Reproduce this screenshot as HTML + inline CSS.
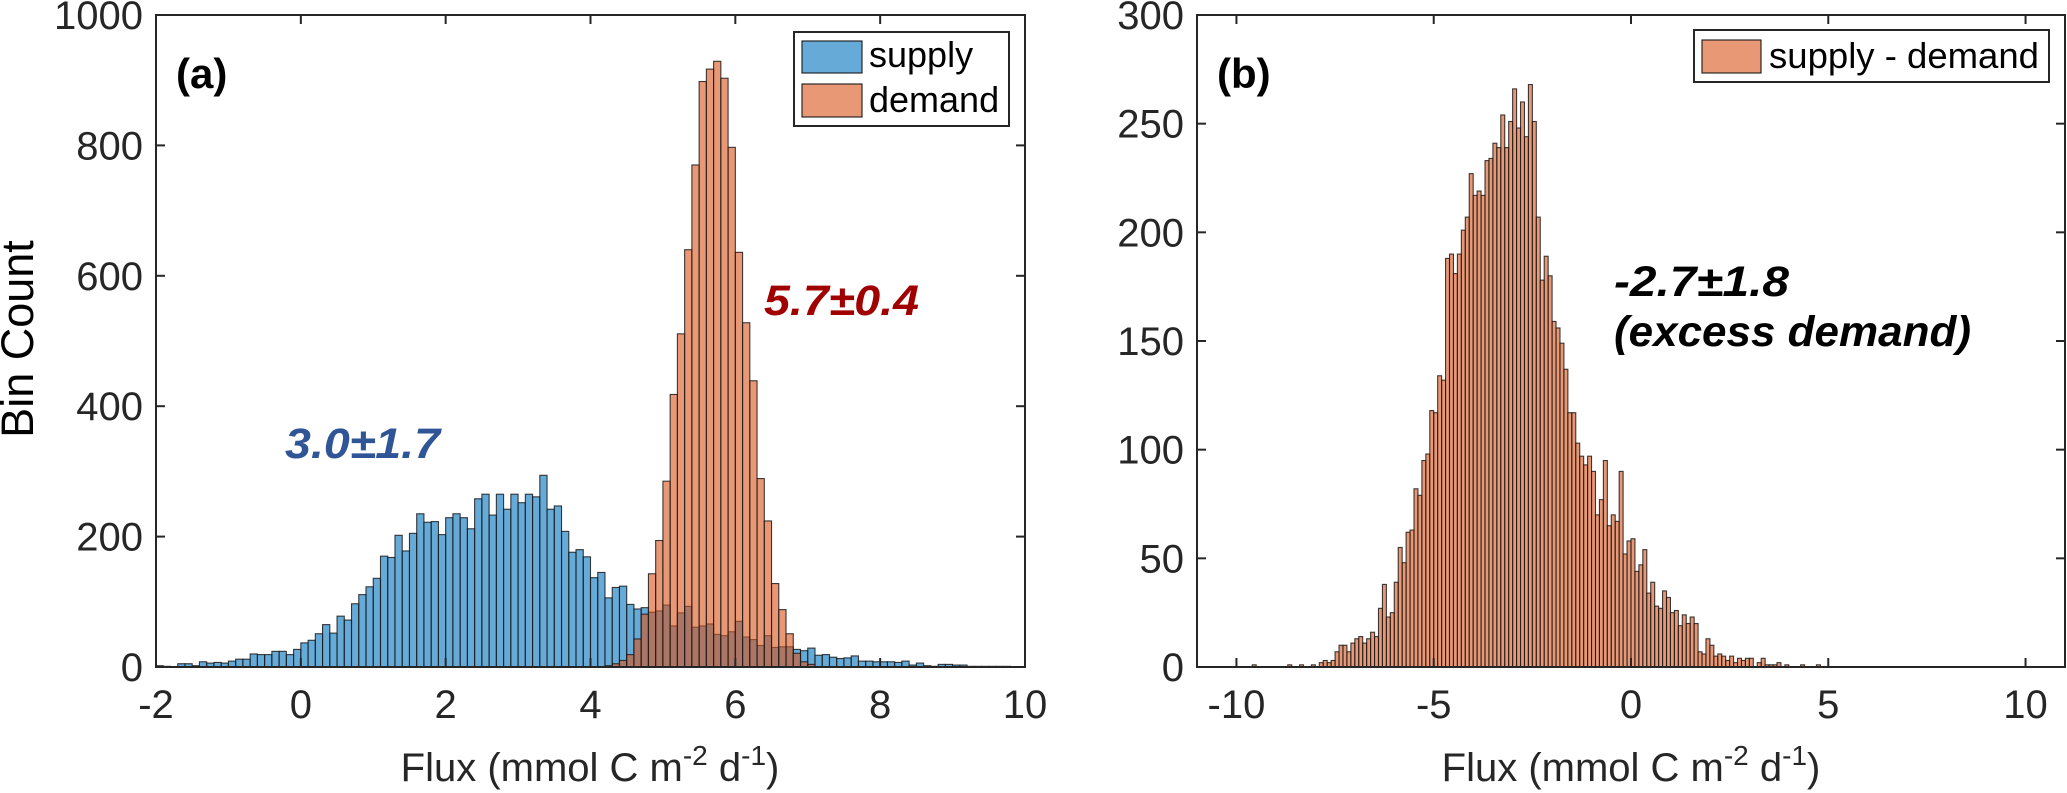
<!DOCTYPE html>
<html><head><meta charset="utf-8"><style>
html,body{margin:0;padding:0;background:#fff;}
svg{display:block;font-family:"Liberation Sans",Arial,sans-serif;}
</style></head><body>
<svg id="fig" width="2067" height="793" viewBox="0 0 2067 793" xmlns="http://www.w3.org/2000/svg">
<g id="pa"></g>
<g id="pb"></g>
</svg>
<script>
// ---- Panel (a) data ----
const aBinWidth = 0.1;
const supplyStart = -2.0;
const supplyCounts = [2,1,0,5,5,2,8,6,7,6,9,12,12,20,19,19,24,24,19,27,
37,41,51,65,52,78,72,97,111,123,136,170,168,202,178,205,235,222,223,203,
229,235,229,212,258,265,233,265,242,265,252,265,261,294,242,247,208,176,180,169,
137,145,106,122,124,96,89,91,84,86,95,63,83,93,61,63,66,50,48,54,
70,46,42,33,48,30,31,31,27,25,29,18,19,15,13,14,17,9,9,8,
8,8,7,9,3,6,2,1,4,4,3,3,1,1,1,1,1,1];
const demandStart = 4.2;
const demandCounts = [2,5,10,19,43,81,143,194,285,418,511,640,770,898,917,929,903,797,636,528,439,289,224,128,88,51,21,8,4];
const aXTicks = [-2,0,2,4,6,8,10];
const aYTicks = [0,200,400,600,800,1000];
// ---- Panel (b) data ----
const bBinWidth = 0.1;
const diffStart = -9.6;
const diffCounts = [1,0,0,0,0,0,0,0,0,1,0,0,1,0,0,1,0,2,3,2,
3,7,10,10,7,11,13,14,11,13,16,14,27,38,23,25,39,55,48,62,
63,82,79,95,98,118,117,134,132,188,190,181,190,201,207,227,217,219,217,233,
234,241,239,254,239,251,266,248,260,244,268,251,207,178,189,180,159,156,149,137,
117,117,103,97,93,97,90,70,77,95,65,70,67,90,52,58,59,44,47,54,
34,39,28,27,35,32,25,26,19,24,20,23,20,7,6,13,10,5,6,5,
3,5,2,4,3,4,4,0,2,4,1,1,1,2,0,1,0,0,0,1,0,0,0,1];
const bXTicks = [-10,-5,0,5,10];
const bYTicks = [0,50,100,150,200,250,300];

const NS = "http://www.w3.org/2000/svg";
function mk(parent, tag, attrs, text){
  const e = document.createElementNS(NS, tag);
  for (const k in attrs) e.setAttribute(k, attrs[k]);
  if (text !== undefined) e.textContent = text;
  parent.appendChild(e);
  return e;
}
const TOP = 15, BOT = 667;

function axes(g, L, R, xmin, xmax, ymax, xticks, yticks, name){
  const xs = v => L + (v - xmin) / (xmax - xmin) * (R - L);
  const ys = c => BOT - c / ymax * (BOT - TOP);
  return {xs, ys, draw(){
    const box = mk(g, 'rect', {x:L, y:TOP, width:R-L, height:BOT-TOP, fill:'none', stroke:'#262626', 'stroke-width':2});
    
    
    xticks.forEach(t => {
      const x = xs(t);
      mk(g, 'line', {x1:x, x2:x, y1:BOT, y2:BOT-9, stroke:'#262626', 'stroke-width':2});
      mk(g, 'line', {x1:x, x2:x, y1:TOP, y2:TOP+9, stroke:'#262626', 'stroke-width':2});
      const tl = mk(g, 'text', {x:x, y:718, 'text-anchor':'middle', 'font-size':40, fill:'#262626'}, String(t));
      
      
    });
    yticks.forEach(t => {
      const y = ys(t);
      mk(g, 'line', {x1:L, x2:L+9, y1:y, y2:y, stroke:'#262626', 'stroke-width':2});
      mk(g, 'line', {x1:R, x2:R-9, y1:y, y2:y, stroke:'#262626', 'stroke-width':2});
      const tl = mk(g, 'text', {x:L-13, y:y+14, 'text-anchor':'end', 'font-size':40, fill:'#262626'}, String(t));
      
      
    });
  }};
}
function bars(g, ax, start, w, counts, color, name){
  counts.forEach((c, i) => {
    if (c <= 0) return;
    const x0 = ax.xs(start + i * w), x1 = ax.xs(start + (i + 1) * w);
    const y = ax.ys(c);
    const r = mk(g, 'rect', {x:x0, y:y, width:x1-x0, height:BOT-y, fill:color, 'fill-opacity':0.6, stroke:'#1a1a1a', 'stroke-opacity':0.85, 'stroke-width':1.1});
    
    
  });
}

// ---- Panel (a) ----
const ga = document.getElementById('pa');
const A = axes(ga, 156, 1025, -2, 10, 1000, aXTicks, aYTicks, 'panel-a');
bars(ga, A, supplyStart, aBinWidth, supplyCounts, '#0072bd', 'supply');
bars(ga, A, demandStart, aBinWidth, demandCounts, '#d95319', 'demand');
A.draw();
let t;
t = mk(ga, 'text', {x:176, y:88, 'font-size':42, 'font-weight':'bold', fill:'#000'}, '(a)');
 
t = mk(ga, 'text', {x:33, y:339, 'font-size':45, 'text-anchor':'middle', fill:'#000', transform:'rotate(-90 33 339)'}, 'Bin Count');
 
t = mk(ga, 'text', {x:590, y:781, 'font-size':40, 'text-anchor':'middle', fill:'#262626'});
t.innerHTML = 'Flux (mmol C m<tspan dy="-16" font-size="28">-2</tspan><tspan dy="16"> d</tspan><tspan dy="-16" font-size="28">-1</tspan><tspan dy="16">)</tspan>';
 
t = mk(ga, 'text', {x:285, y:458, 'font-size':43, 'font-weight':'bold', 'font-style':'italic', fill:'#2f5597', textLength:155, lengthAdjust:'spacingAndGlyphs'}, '3.0±1.7');
 
t = mk(ga, 'text', {x:764, y:315, 'font-size':43, 'font-weight':'bold', 'font-style':'italic', fill:'#a00000', textLength:155, lengthAdjust:'spacingAndGlyphs'}, '5.7±0.4');
 
// legend a
const la = mk(ga, 'g', {});
 
mk(la, 'rect', {x:794, y:32, width:215, height:94, fill:'#fff', stroke:'#262626', 'stroke-width':2});
t = mk(la, 'rect', {x:802, y:41, width:60, height:32, fill:'#0072bd', 'fill-opacity':0.6, stroke:'#1a1a1a', 'stroke-width':1.1});
 
t = mk(la, 'text', {x:869, y:67, 'font-size':36, fill:'#000'}, 'supply');
 
t = mk(la, 'rect', {x:802, y:84, width:60, height:33, fill:'#d95319', 'fill-opacity':0.6, stroke:'#1a1a1a', 'stroke-width':1.1});
 
t = mk(la, 'text', {x:869, y:112, 'font-size':36, fill:'#000'}, 'demand');
 

// ---- Panel (b) ----
const gb = document.getElementById('pb');
const B = axes(gb, 1197, 2065, -11, 11, 300, bXTicks, bYTicks, 'panel-b');
bars(gb, B, diffStart, bBinWidth, diffCounts, '#d95319', 'supply-minus-demand');
B.draw();
t = mk(gb, 'text', {x:1217, y:88, 'font-size':42, 'font-weight':'bold', fill:'#000'}, '(b)');
 
t = mk(gb, 'text', {x:1631, y:781, 'font-size':40, 'text-anchor':'middle', fill:'#262626'});
t.innerHTML = 'Flux (mmol C m<tspan dy="-16" font-size="28">-2</tspan><tspan dy="16"> d</tspan><tspan dy="-16" font-size="28">-1</tspan><tspan dy="16">)</tspan>';
 
t = mk(gb, 'text', {x:1614, y:296, 'font-size':43, 'font-weight':'bold', 'font-style':'italic', fill:'#000', textLength:175, lengthAdjust:'spacingAndGlyphs'}, '-2.7±1.8');
 
t = mk(gb, 'text', {x:1614, y:346, 'font-size':43, 'font-weight':'bold', 'font-style':'italic', fill:'#000', textLength:357, lengthAdjust:'spacingAndGlyphs'}, '(excess demand)');
 
const lb = mk(gb, 'g', {});
 
mk(lb, 'rect', {x:1694, y:30, width:355, height:52, fill:'#fff', stroke:'#262626', 'stroke-width':2});
t = mk(lb, 'rect', {x:1702, y:40, width:59, height:33, fill:'#d95319', 'fill-opacity':0.6, stroke:'#1a1a1a', 'stroke-width':1.1});
 
t = mk(lb, 'text', {x:1769, y:68, 'font-size':36, fill:'#000', textLength:270, lengthAdjust:'spacingAndGlyphs'}, 'supply - demand');
 
</script>
</body></html>
